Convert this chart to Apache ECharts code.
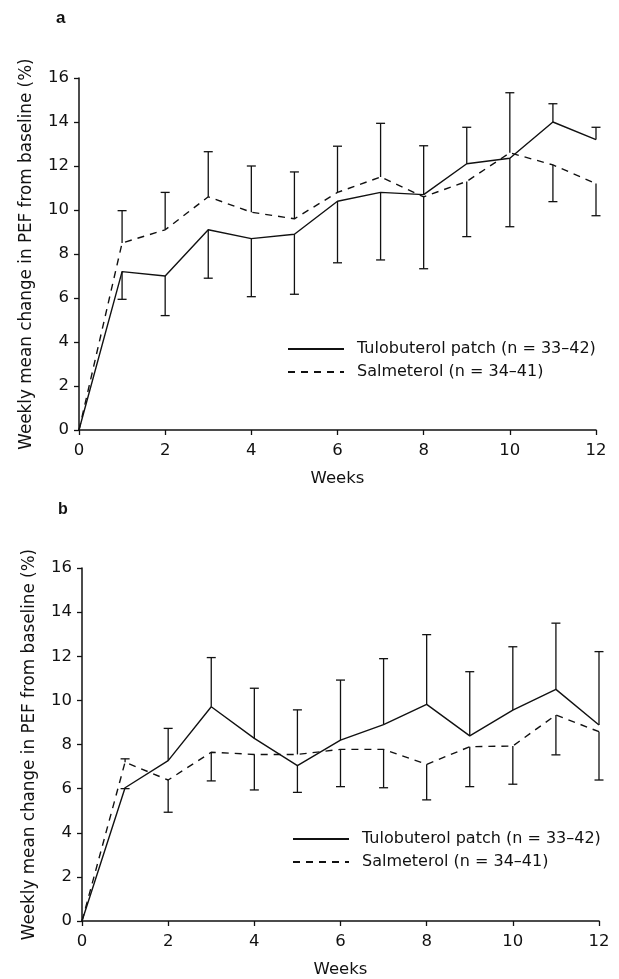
<!DOCTYPE html>
<html>
<head>
<meta charset="UTF-8">
<title>Weekly mean change in PEF</title>
<script src="https://cdn.jsdelivr.net/npm/echarts@6/dist/echarts.min.js"></script>
<style>
  html, body { margin: 0; padding: 0; background: #fff; }
  #chart { width: 619px; height: 979px; }
</style>
</head>
<body>
<div id="chart"></div>
<script>
// weeks on the x axis
const weeks = [0, 1, 2, 3, 4, 5, 6, 7, 8, 9, 10, 11, 12];
const xTicks = [0, 2, 4, 6, 8, 10, 12];
const yTicks = [0, 2, 4, 6, 8, 10, 12, 14, 16];

const nameTul = 'Tulobuterol patch (n = 33\u201342)';
const nameSal = 'Salmeterol (n = 34\u201341)';

// panel a: means and error bar ends
const tulA = [0, 7.2, 7.0, 9.1, 8.7, 8.9, 10.4, 10.8, 10.7, 12.1, 12.35, 14.0, 13.2];
const salA = [0, 8.5, 9.1, 10.6, 9.9, 9.6, 10.8, 11.5, 10.6, 11.3, 12.6, 12.05, 11.2];
const upA = [null, 9.97, 10.8, 12.65, 12.0, 11.73, 12.9, 13.94, 12.92, 13.76, 15.33, 14.83, 13.76];
const lowA = [null, 5.94, 5.2, 6.9, 6.06, 6.17, 7.6, 7.73, 7.33, 8.79, 9.24, 10.38, 9.74];

// panel b
const tulB = [0, 6.04, 7.27, 9.71, 8.28, 7.04, 8.2, 8.9, 9.82, 8.39, 9.56, 10.5, 8.88];
const salB = [0, 7.2, 6.39, 7.65, 7.55, 7.55, 7.78, 7.78, 7.1, 7.9, 7.93, 9.34, 8.58];
const upB = [null, 7.35, 8.73, 11.94, 10.55, 9.57, 10.92, 11.89, 12.98, 11.3, 12.43, 13.5, 12.21];
const lowB = [null, 6.0, 4.93, 6.35, 5.94, 5.83, 6.09, 6.04, 5.49, 6.09, 6.2, 7.53, 6.39];

const font = 'DejaVu Sans';

function pairs(ys) {
  return weeks.map((w, i) => [w, ys[i]]);
}

// whisker above the higher mean, whisker below the lower mean
function barData(t, s, up, low) {
  const out = [];
  weeks.forEach((w, i) => {
    if (up[i] == null) return;
    out.push([w, Math.max(t[i], s[i]), up[i], Math.min(t[i], s[i]), low[i]]);
  });
  return out;
}

function renderBar(params, api) {
  const hi = api.coord([api.value(0), api.value(1)]);
  const top = api.coord([api.value(0), api.value(2)]);
  const lo = api.coord([api.value(0), api.value(3)]);
  const bot = api.coord([api.value(0), api.value(4)]);
  const cap = 4.5;
  const st = { stroke: '#111', lineWidth: 1.3 };
  return {
    type: 'group',
    children: [
      { type: 'line', shape: { x1: hi[0], y1: hi[1], x2: top[0], y2: top[1] }, style: st },
      { type: 'line', shape: { x1: top[0] - cap, y1: top[1], x2: top[0] + cap, y2: top[1] }, style: st },
      { type: 'line', shape: { x1: lo[0], y1: lo[1], x2: bot[0], y2: bot[1] }, style: st },
      { type: 'line', shape: { x1: bot[0] - cap, y1: bot[1], x2: bot[0] + cap, y2: bot[1] }, style: st }
    ]
  };
}

function xAxisFor(idx) {
  return {
    gridIndex: idx, type: 'value', min: 0, max: 12, interval: 2,
    name: 'Weeks', nameLocation: 'middle', nameGap: 40,
    nameTextStyle: { color: '#111', fontSize: 16.5, fontFamily: font },
    axisLine: { lineStyle: { color: '#111', width: 1.5 } },
    axisTick: { length: 5, lineStyle: { color: '#111', width: 1.3 } },
    axisLabel: { color: '#111', fontSize: 16.5, fontFamily: font, margin: 12,
      formatter: v => xTicks.includes(v) ? String(v) : '' },
    splitLine: { show: false }
  };
}

function yAxisFor(idx, gap) {
  return {
    gridIndex: idx, type: 'value', min: 0, max: 16, interval: 2,
    name: 'Weekly mean change in PEF from baseline (%)', nameLocation: 'middle',
    nameGap: gap, nameRotate: 90,
    nameTextStyle: { color: '#111', fontSize: 16.8, fontFamily: font },
    axisLine: { show: true, lineStyle: { color: '#111', width: 1.5 } },
    axisTick: { show: true, length: 5, lineStyle: { color: '#111', width: 1.3 } },
    axisLabel: { color: '#111', fontSize: 16.5, fontFamily: font, margin: 10,
      formatter: v => yTicks.includes(v) ? String(v) : '' },
    splitLine: { show: false }
  };
}

function lineSeries(name, idx, ys, dashed) {
  return {
    name: name, type: 'line', xAxisIndex: idx, yAxisIndex: idx,
    data: pairs(ys), symbol: 'none', animation: false,
    lineStyle: { color: '#111', width: 1.4, type: dashed ? [7, 6] : 'solid' },
    itemStyle: { color: '#111' }
  };
}

// legend keeps the line sample, the marker is made invisible
function legendFor(left, top) {
  return {
    data: [nameTul, nameSal], orient: 'vertical', left: left, top: top,
    itemWidth: 56, itemHeight: 14, itemGap: 7,
    itemStyle: { color: 'rgba(0,0,0,0)', borderWidth: 0, opacity: 0 },
    textStyle: { color: '#111', fontSize: 16, fontFamily: font, padding: [0, 0, 0, 8] },
    selectedMode: false
  };
}

const chart = echarts.init(document.getElementById('chart'));
chart.setOption({
  backgroundColor: '#fff',
  animation: false,
  graphic: [
    { type: 'text', left: 56, top: 10, style: { text: 'a', fontSize: 17, fontWeight: 'bold', fontFamily: 'Liberation Sans', fill: '#111' } },
    { type: 'text', left: 58, top: 502, style: { text: 'b', fontSize: 16, fontWeight: 'bold', fontFamily: 'Liberation Sans', fill: '#111' } }
  ],
  grid: [
    { left: 79, right: 23, top: 78, height: 352 },
    { left: 82, right: 20, top: 568, height: 353 }
  ],
  xAxis: [xAxisFor(0), xAxisFor(1)],
  yAxis: [yAxisFor(0, 44), yAxisFor(1, 44)],
  legend: [legendFor(282, 336), legendFor(287, 826)],
  series: [
    lineSeries(nameTul, 0, tulA, false),
    lineSeries(nameSal, 0, salA, true),
    { type: 'custom', xAxisIndex: 0, yAxisIndex: 0, renderItem: renderBar,
      data: barData(tulA, salA, upA, lowA), silent: true },
    lineSeries(nameTul, 1, tulB, false),
    lineSeries(nameSal, 1, salB, true),
    { type: 'custom', xAxisIndex: 1, yAxisIndex: 1, renderItem: renderBar,
      data: barData(tulB, salB, upB, lowB), silent: true }
  ]
});
</script>
</body>
</html>
